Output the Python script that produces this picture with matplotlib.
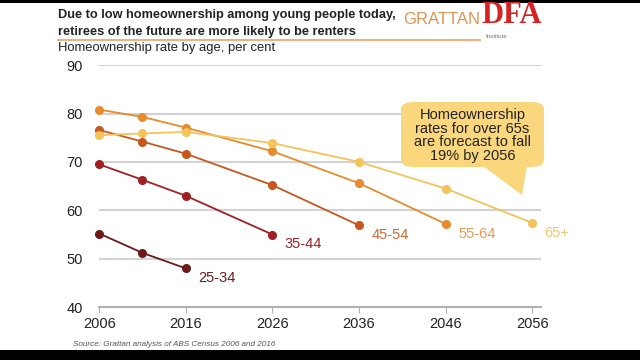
import matplotlib
matplotlib.use("Agg")
import matplotlib.pyplot as plt
from matplotlib.patches import Rectangle, FancyBboxPatch, Polygon

plt.rcParams['font.family'] = ['Liberation Sans', 'DejaVu Sans']

# ---- data ----
groups = ["25-34", "35-44", "45-54", "55-64", "65+"]
years_2534 = [2006, 2011, 2016]
vals_2534 = [55.2, 51.2, 48.0]
years_3544 = [2006, 2011, 2016, 2026]
vals_3544 = [69.5, 66.3, 63.0, 55.0]
years_4554 = [2006, 2011, 2016, 2026, 2036]
vals_4554 = [76.6, 74.2, 71.7, 65.2, 56.9]
years_5564 = [2006, 2011, 2016, 2026, 2036, 2046]
vals_5564 = [80.8, 79.3, 77.1, 72.2, 65.6, 57.2]
years_65 = [2006, 2011, 2016, 2026, 2036, 2046, 2056]
vals_65 = [75.5, 75.9, 76.2, 73.9, 70.0, 64.5, 57.4]
xticks = [2006, 2016, 2026, 2036, 2046, 2056]
yticks = [40, 50, 60, 70, 80, 90]

series = [
    (groups[0], years_2534, vals_2534, "#6e1a1a", "#6e1a1a"),
    (groups[1], years_3544, vals_3544, "#a31f26", "#a31f26"),
    (groups[2], years_4554, vals_4554, "#c9561f", "#d06a35"),
    (groups[3], years_5564, vals_5564, "#e98a2c", "#eb9a50"),
    (groups[4], years_65, vals_65, "#f6c25a", "#f6c870"),
]

fig = plt.figure(figsize=(6.4, 3.6), dpi=100)
ax = fig.add_axes([0.155, 0.147, 0.69, 0.672])

for name, xs, ys, col, lcol in series:
    ax.plot(xs, ys, color=col, lw=1.3, marker="o", ms=5.5, mec=col, mfc=col,
            clip_on=False, zorder=3)
    ax.annotate(name, (xs[-1], ys[-1]), xytext=(9, -7), textcoords="offset points",
                color=lcol, fontsize=10.5, ha="left", va="center")

ax.set_xlim(2006, 2057)
ax.set_ylim(40, 90)
ax.set_yticks(yticks)
ax.set_xticks(xticks)
ax.yaxis.grid(True, color="#d3d3d3", lw=1.5)
ax.set_axisbelow(True)
for s in ["top", "right", "left"]:
    ax.spines[s].set_visible(False)
ax.spines["bottom"].set_color("#b0b0b0")
ax.spines["bottom"].set_linewidth(1.5)
ax.tick_params(axis="y", length=0, pad=12, labelsize=10.5, colors="#222222")
ax.tick_params(axis="x", length=4, color="#b0b0b0", labelsize=10.5, colors="#222222", pad=3)

# callout
box = FancyBboxPatch((401/640, 1-167/360), 143/640, 65/360,
                     boxstyle="round,pad=0,rounding_size=0.02",
                     transform=fig.transFigure, fc="#fad77c", ec="none", zorder=5)
fig.patches.append(box)
tri = Polygon([(483/640, 1-166/360), (527/640, 1-166/360), (522/640, 1-195/360)],
              closed=True, transform=fig.transFigure, fc="#fad77c", ec="none")
fig.patches.append(tri)
fig.text(472.5/640, 1-135.5/360,
         "Homeownership\nrates for over 65s\nare forecast to fall\n19% by 2056",
         ha="center", va="center", fontsize=10.5, color="#222222", linespacing=0.98, zorder=6)

# titles
fig.text(58/640, 1-15/360, "Due to low homeownership among young people today,",
         fontsize=9.2, fontweight="bold", color="#222222", va="center")
fig.text(58/640, 1-31.5/360, "retirees of the future are more likely to be renters",
         fontsize=9.2, fontweight="bold", color="#222222", va="center")
fig.add_artist(plt.Line2D([58/640, 480/640], [1-39.5/360, 1-39.5/360],
                          color="#eaa366", lw=1.2, transform=fig.transFigure))
fig.text(58/640, 1-48/360, "Homeownership rate by age, per cent",
         fontsize=9.4, color="#222222", va="center")

# logo
fig.text(403/640, 1-19/360, "GRATTAN", fontsize=12, color="#e8924e", va="center",
         ha="left")
fig.text(496/640, 1-37/360, "Institute", fontsize=4.5, color="#777777", va="center",
         ha="center")
fig.text(481/640, 1-23/360, "DFA", fontsize=22, color="#d62222", va="baseline",
         ha="left", fontweight="bold", family=["Liberation Serif", "DejaVu Serif"],
         zorder=10)

# source
fig.text(73/640, 1-345/360, "Source: Grattan analysis of ABS Census 2006 and 2016",
         fontsize=5.9, style="italic", color="#555555", va="center")

# black bars
fig.patches.append(Rectangle((0, 1-3/360), 1, 3/360, transform=fig.transFigure,
                             fc="black", ec="none"))
fig.patches.append(Rectangle((0, 0), 1, 10/360, transform=fig.transFigure,
                             fc="black", ec="none"))

fig.savefig("out.png", dpi=100, facecolor="white")
